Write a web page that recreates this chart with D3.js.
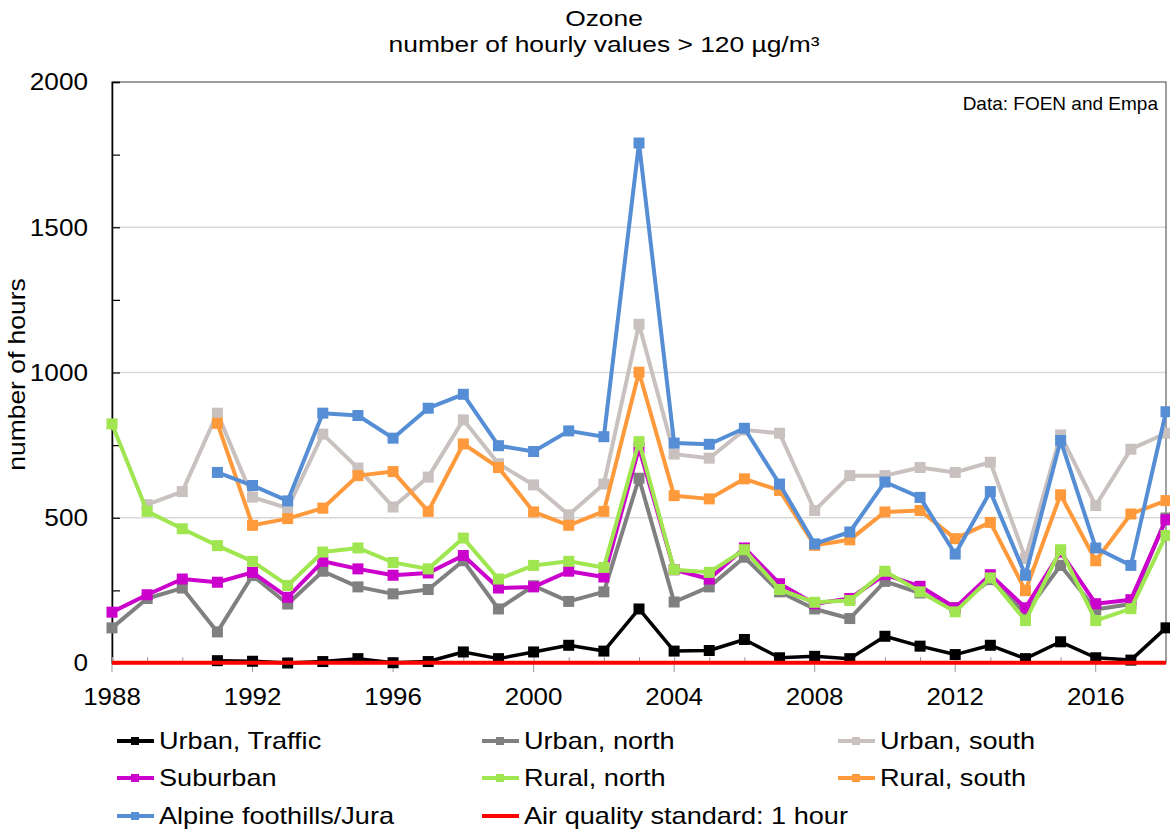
<!DOCTYPE html>
<html>
<head>
<meta charset="UTF-8">
<title>Ozone</title>
<script src="https://cdn.jsdelivr.net/npm/d3@7"></script>
<style type="text/css">
body { margin: 0; background: #fff; }
text { font-family: "Liberation Sans", Arial, sans-serif; fill: #000; }
</style>
</head>
<body>
<div id="chart"></div>
<script>
// values
var years = d3.range(1988, 2019);
var urbanTraffic = [null, null, null, 8, 6, 0, 5, 15, 1, 5, 38, 15, 38, 61, 41, 186, 41, 43, 81, 18, 23, 15, 92, 58, 29, 61, 15, 73, 18, 10, 121];
var urbanNorth = [121, 222, 258, 107, 301, 203, 316, 262, 238, 253, 352, 186, 266, 212, 245, 636, 210, 262, 364, 245, 186, 153, 281, 241, 190, 287, 172, 336, 184, 203, 499];
var urbanSouth = [null, 545, 590, 860, 571, 533, 788, 671, 537, 640, 837, 686, 613, 510, 616, 1166, 719, 705, 802, 791, 525, 645, 645, 673, 656, 691, 360, 785, 542, 736, 791];
var suburban = [175, 235, 289, 278, 312, 226, 350, 324, 302, 310, 370, 258, 262, 316, 296, 740, 321, 289, 396, 273, 204, 222, 304, 264, 190, 304, 190, 382, 204, 218, 493];
var ruralNorth = [823, 522, 462, 404, 350, 267, 382, 396, 346, 324, 430, 289, 336, 350, 329, 762, 321, 312, 390, 253, 209, 215, 316, 245, 176, 293, 146, 390, 146, 187, 439];
var ruralSouth = [null, null, null, 825, 474, 497, 533, 645, 659, 522, 754, 673, 520, 474, 522, 1001, 576, 565, 634, 594, 405, 424, 520, 525, 428, 484, 249, 579, 352, 513, 559];
var alpine = [null, null, null, 656, 611, 558, 860, 852, 774, 877, 925, 748, 728, 799, 779, 1790, 757, 753, 808, 616, 410, 451, 623, 570, 375, 590, 302, 766, 396, 336, 865];
var standard = 1;

var seriesNames = ["Urban, Traffic", "Urban, north", "Urban, south", "Suburban", "Rural, north", "Rural, south", "Alpine foothills/Jura"];
var seriesValues = [urbanTraffic, urbanNorth, urbanSouth, suburban, ruralNorth, ruralSouth, alpine];
var seriesColors = ["#000000", "#808080", "#c9c1bf", "#cc00cc", "#a0e650", "#ff9a3c", "#558ed5"];
var standardName = "Air quality standard: 1 hour";
var yLabels = [0, 500, 1000, 1500, 2000];
var xLabels = [1988, 1992, 1996, 2000, 2004, 2008, 2012, 2016];

var width = 1170, height = 837;
var plotL = 112, plotR = 1166, plotT = 82, plotB = 663;

var svg = d3.select("#chart").append("svg")
    .attr("width", width)
    .attr("height", height);

var x = d3.scaleLinear().domain([1988, 2018]).range([plotL, plotR]);
var y = d3.scaleLinear().domain([0, 2000]).range([plotB, plotT]);

// title (the original font is a bit wider, so stretch it)
svg.append("text").attr("transform", "translate(604,26) scale(1.2,1)").attr("text-anchor", "middle")
    .style("font-size", "22px").text("Ozone");
svg.append("text").attr("transform", "translate(604,52) scale(1.2,1)").attr("text-anchor", "middle")
    .style("font-size", "22px").text("number of hourly values > 120 µg/m³");

// gridlines
svg.append("g").selectAll("line")
    .data([500, 1000, 1500])
    .enter().append("line")
    .attr("x1", plotL).attr("x2", plotR)
    .attr("y1", function (d) { return y(d); })
    .attr("y2", function (d) { return y(d); })
    .attr("stroke", "#d9d9d9").attr("stroke-width", 1.5);

// frame
svg.append("rect").attr("x", plotL).attr("y", plotT)
    .attr("width", plotR - plotL).attr("height", plotB - plotT)
    .attr("fill", "none").attr("stroke", "#404040").attr("stroke-width", 1);

// y axis
var yAxis = d3.axisRight(y).tickValues(d3.range(0, 2001, 250)).tickSize(8).tickFormat("");
var gy = svg.append("g").attr("transform", "translate(" + plotL + ",0)").call(yAxis);
gy.select(".domain").attr("stroke", "#000").attr("stroke-width", 1.5);
gy.selectAll(".tick line").attr("stroke", "#000").attr("stroke-width", 1.2);

svg.append("g").selectAll("text")
    .data(yLabels)
    .enter().append("text")
    .attr("transform", function (d) { return "translate(88," + y(d) + ") scale(1.09,1)"; })
    .attr("dy", "0.35em").attr("text-anchor", "end")
    .style("font-size", "24px")
    .text(function (d) { return d; });

svg.append("text")
    .attr("transform", "translate(25," + ((plotT + plotB) / 2 + 2) + ") rotate(-90) scale(1.15,1)")
    .attr("text-anchor", "middle")
    .style("font-size", "23px")
    .text("number of hours");

// x axis ticks: minor inside, major outside
var minor = d3.axisTop(x).tickValues(years).tickSize(6).tickFormat("");
var gxm = svg.append("g").attr("transform", "translate(0," + plotB + ")").call(minor);
gxm.select(".domain").remove();
gxm.selectAll(".tick line").attr("stroke", "#999");

var major = d3.axisBottom(x).tickValues(xLabels).tickSize(9).tickPadding(16).tickFormat(d3.format("d"));
var gx = svg.append("g").attr("transform", "translate(0," + plotB + ")").call(major);
gx.select(".domain").remove();
gx.selectAll(".tick line").attr("stroke", "#999");
gx.selectAll(".tick text")
    .attr("transform", "scale(1.08,1)")
    .style("font-size", "24px").style("font-family", "Liberation Sans, Arial, sans-serif").attr("fill", "#000");
gx.selectAll(".tick").attr("transform", function (d) { return "translate(" + x(d) + ",0)"; });

svg.append("text").attr("x", 1158).attr("y", 110).attr("text-anchor", "end")
    .style("font-size", "19px").text("Data: FOEN and Empa");

// series lines
var line = d3.line()
    .defined(function (d) { return d.v !== null; })
    .x(function (d) { return x(d.year); })
    .y(function (d) { return y(d.v); });

seriesValues.forEach(function (vals, i) {
    var pts = years.map(function (yr, j) { return { year: yr, v: vals[j] }; });
    var g = svg.append("g");
    g.append("path")
        .datum(pts)
        .attr("d", line)
        .attr("fill", "none")
        .attr("stroke", seriesColors[i])
        .attr("stroke-width", i === 0 ? 3.5 : 4)
        .attr("stroke-linejoin", "round");
    g.selectAll("rect")
        .data(pts.filter(function (d) { return d.v !== null; }))
        .enter().append("rect")
        .attr("x", function (d) { return x(d.year) - 5.5; })
        .attr("y", function (d) { return y(d.v) - 5.5; })
        .attr("width", 11).attr("height", 11)
        .attr("fill", seriesColors[i]);
});

// air quality standard
svg.append("line")
    .attr("x1", x(1988)).attr("x2", x(2018))
    .attr("y1", y(standard)).attr("y2", y(standard))
    .attr("stroke", "#ff0000").attr("stroke-width", 4);

// legend
var legendItems = seriesNames.map(function (n, i) { return { name: n, color: seriesColors[i], marker: true }; });
legendItems.push({ name: standardName, color: "#ff0000", marker: false });
var colX = [117, 482, 838], rowY = [741, 778, 816];

var leg = svg.append("g").selectAll("g")
    .data(legendItems)
    .enter().append("g")
    .attr("transform", function (d, i) { return "translate(" + colX[i % 3] + "," + rowY[Math.floor(i / 3)] + ")"; });
leg.append("line").attr("x1", 0).attr("x2", 37).attr("y1", 0).attr("y2", 0)
    .attr("stroke", function (d) { return d.color; }).attr("stroke-width", 4);
leg.filter(function (d) { return d.marker; }).append("rect")
    .attr("x", 14).attr("y", -4).attr("width", 8).attr("height", 8)
    .attr("fill", function (d) { return d.color; });
leg.append("text").attr("transform", "translate(42,0) scale(1.13,1)").attr("dy", "0.35em")
    .style("font-size", "24px")
    .text(function (d) { return d.name; });
</script>
</body>
</html>
